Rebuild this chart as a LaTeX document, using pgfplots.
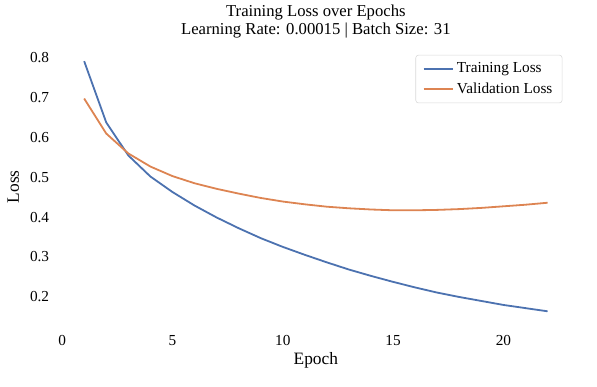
\documentclass[border=0pt]{standalone}
\usepackage{pgfplots}
\pgfplotsset{compat=1.18}
\usepackage{fontspec}
\setmainfont{Liberation Serif}
\definecolor{sbblue}{HTML}{4C72B0}
\definecolor{sborange}{HTML}{DD8452}
\begin{document}
\begin{tikzpicture}[x=1pt,y=1pt]
\begin{axis}[
  scale only axis,
  width=367pt, height=199pt,
  xmin=-0.05, xmax=23.05,
  ymin=0.1285, ymax=0.8235,
  axis line style={draw=none},
  tick style={draw=none},
  xtick={0,5,10,15,20},
  ytick={0.2,0.3,0.4,0.5,0.6,0.7,0.8},
  /pgf/number format/fixed,
  /pgf/number format/fixed zerofill,
  /pgf/number format/precision=1,
  /pgf/number format/assume math mode=true,
  xticklabel={\pgfmathprintnumber[precision=0,fixed zerofill=false]{\tick}},
  tick label style={font=\fontsize{11}{13}\selectfont},
  xticklabel style={yshift=-4pt},
  yticklabel style={xshift=-5pt},
  xlabel={Epoch}, ylabel={Loss},
  label style={font=\fontsize{12.5}{14}\selectfont},
  xlabel style={yshift=2pt},
  ylabel style={yshift=1pt},
  title={Training Loss over Epochs\\Learning Rate: 0.00015 \textbar{} Batch Size: 31},
  title style={font=\fontsize{12}{13}\selectfont, align=center, yshift=-2pt},
  legend style={at={(rel axis cs:1,1)}, anchor=north east, xshift=-6pt, yshift=-4.5pt,
    draw=black!15, rounded corners=2pt, font=\fontsize{11}{13}\selectfont,
    row sep=1.5pt, inner xsep=5pt, inner ysep=3.5pt},
  legend cell align=left,
  legend image code/.code={\draw[#1] (0cm,0cm) -- (0.75cm,0cm);},
]
\addplot[sbblue, line width=1.3pt] coordinates {
(1,0.792)(2,0.638)(3,0.555)(4,0.502)(5,0.463)(6,0.429)(7,0.399)(8,0.372)(9,0.347)(10,0.325)
(11,0.305)(12,0.286)(13,0.268)(14,0.252)(15,0.237)(16,0.223)(17,0.210)(18,0.199)(19,0.189)(20,0.179)(21,0.171)(22,0.163)};
\addlegendentry{Training Loss}
\addplot[sborange, line width=1.3pt] coordinates {
(1,0.698)(2,0.610)(3,0.560)(4,0.527)(5,0.503)(6,0.485)(7,0.471)(8,0.459)(9,0.448)(10,0.439)
(11,0.432)(12,0.426)(13,0.422)(14,0.419)(15,0.417)(16,0.417)(17,0.418)(18,0.420)(19,0.423)(20,0.427)(21,0.431)(22,0.436)};
\addlegendentry{Validation Loss}
\coordinate (O) at (rel axis cs:0,0);
\end{axis}
\path ([shift={(-43.9pt,-43.9pt)}]O) rectangle ([shift={(385.9pt,234pt)}]O);
\end{tikzpicture}
\end{document}
